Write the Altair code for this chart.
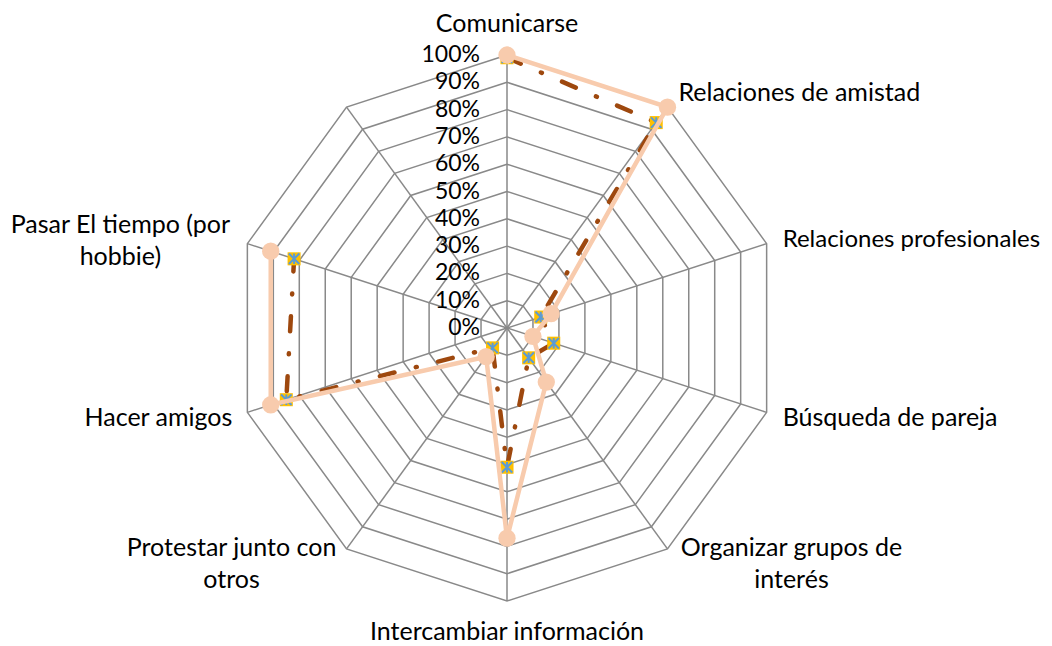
import altair as alt
import pandas as pd

# ---------------- data ----------------
categories = [
    "Comunicarse",
    "Relaciones de amistad",
    "Relaciones profesionales",
    "Búsqueda de pareja",
    "Organizar grupos de\ninterés",
    "Intercambiar información",
    "Protestar junto con\notros",
    "Hacer amigos",
    "Pasar El tiempo (por\nhobbie)",
    "",
]
serie_a = [1.00, 1.00, 0.17, 0.10, 0.245, 0.77, 0.13, 0.91, 0.91, None]   # peach, circles
serie_b = [0.99, 0.93, 0.13, 0.18, 0.135, 0.51, 0.09, 0.85, 0.82, None]   # brown dash-dot, squares
tick_levels = [0.0, 0.1, 0.2, 0.3, 0.4, 0.5, 0.6, 0.7, 0.8, 0.9, 1.0]
tick_labels = ["0%", "10%", "20%", "30%", "40%", "50%", "60%", "70%", "80%", "90%", "100%"]

# ---------------- layout ----------------
N = len(categories)
R_PX = 273
CX, CY = 499, 320
W, H = 1036, 638
FONT = "Lato"
FS = 25
FS_TICK = 23
GRID = "#898989"
PEACH = "#F8CBAD"
BROWN = "#9E480E"

xs = alt.Scale(domain=[-CX / R_PX, (W - CX) / R_PX], nice=False, zero=False)
ys = alt.Scale(domain=[-(H - CY) / R_PX, CY / R_PX], nice=False, zero=False)
X = lambda f: alt.X(f, type="quantitative", scale=xs, axis=None)
Y = lambda f: alt.Y(f, type="quantitative", scale=ys, axis=None)

ANG = f"datum.idx * 2 * PI / {N}"

# series table
rows = []
for name, vals in (("A", serie_a), ("B", serie_b)):
    for i, v in enumerate(vals):
        if v is not None:
            rows.append({"idx": i, "cat": categories[i], "serie": name, "v": v})
df = pd.DataFrame(rows)

# grid rings
ring_rows = [{"level": lv, "idx": k} for lv in tick_levels[1:] for k in range(N + 1)]
rings = alt.Chart(pd.DataFrame(ring_rows)).transform_calculate(
    ang=ANG, x="datum.level * sin(datum.ang)", y="datum.level * cos(datum.ang)"
).mark_line(color=GRID, strokeWidth=1.5).encode(
    x=X("x"), y=Y("y"), detail="level:N", order="idx:Q"
)

spokes = alt.Chart(pd.DataFrame({"idx": list(range(N))})).transform_calculate(
    ang=ANG, x0="0", y0="0", x="sin(datum.ang)", y="cos(datum.ang)"
).mark_rule(color=GRID, strokeWidth=1.5).encode(
    x=X("x0"), y=Y("y0"), x2="x:Q", y2="y:Q"
)

series = alt.Chart(df).transform_calculate(
    ang=ANG, x="datum.v * sin(datum.ang)", y="datum.v * cos(datum.ang)"
)
sa = series.transform_filter("datum.serie == 'A'")
sb = series.transform_filter("datum.serie == 'B'")

line_b = sb.mark_line(color=BROWN, strokeWidth=4.5, strokeDash=[15, 22, 1, 22],
                      strokeCap="round").encode(x=X("x"), y=Y("y"), order="idx:Q")
sq_b = sb.mark_point(shape="square", filled=True, color="#FFC000", size=170,
                     opacity=1).encode(x=X("x"), y=Y("y"))
star_b = sb.mark_point(shape="M-1,-1L1,1M-1,1L1,-1M0,-1L0,1", filled=False,
                       stroke="#5B9BD5", strokeWidth=2, size=110, opacity=1).encode(
    x=X("x"), y=Y("y"))
line_a = sa.mark_line(color=PEACH, strokeWidth=4.5).encode(x=X("x"), y=Y("y"), order="idx:Q")
pt_a = sa.mark_circle(color=PEACH, size=300, opacity=1).encode(x=X("x"), y=Y("y"))

ticks = alt.Chart(pd.DataFrame({"level": tick_levels, "lab": tick_labels})).transform_calculate(
    x0="0"
).mark_text(align="right", baseline="middle", dx=-27, font=FONT, fontSize=FS_TICK,
            color="#000000").encode(x=X("x0"), y=Y("level"), text="lab:N")

label_layout = {
    0: ("center", 0, -31, FS),
    1: ("left", 11, -14, FS),
    2: ("left", 16, -4, 24),
    3: ("left", 16, 6, FS),
    4: ("center", 124, -1, FS),
    5: ("center", 0, 31, FS),
    6: ("center", -115, -1, FS),
    7: ("right", -15, 6, FS),
    8: ("center", -127, -19, FS),
}
label_layers = []
for i, (al, dx, dy, fs) in label_layout.items():
    lab = alt.Chart(pd.DataFrame({"idx": [i], "cat": [categories[i]]})).transform_calculate(
        ang=ANG, x="sin(datum.ang)", y="cos(datum.ang)"
    ).mark_text(align=al, baseline="middle", dx=dx, dy=dy, font=FONT, fontSize=fs,
                lineBreak="\n", lineHeight=32, color="#000000").encode(
        x=X("x"), y=Y("y"), text="cat:N")
    label_layers.append(lab)

chart = alt.layer(
    rings, spokes, line_b, sq_b, star_b, line_a, pt_a, ticks, *label_layers
).properties(
    width=W, height=H, autosize=alt.AutoSizeParams(type="none"), padding=0,
    background="white"
).configure_view(stroke=None)

chart.save("out.html", embed_options={"renderer": "svg", "actions": False})
